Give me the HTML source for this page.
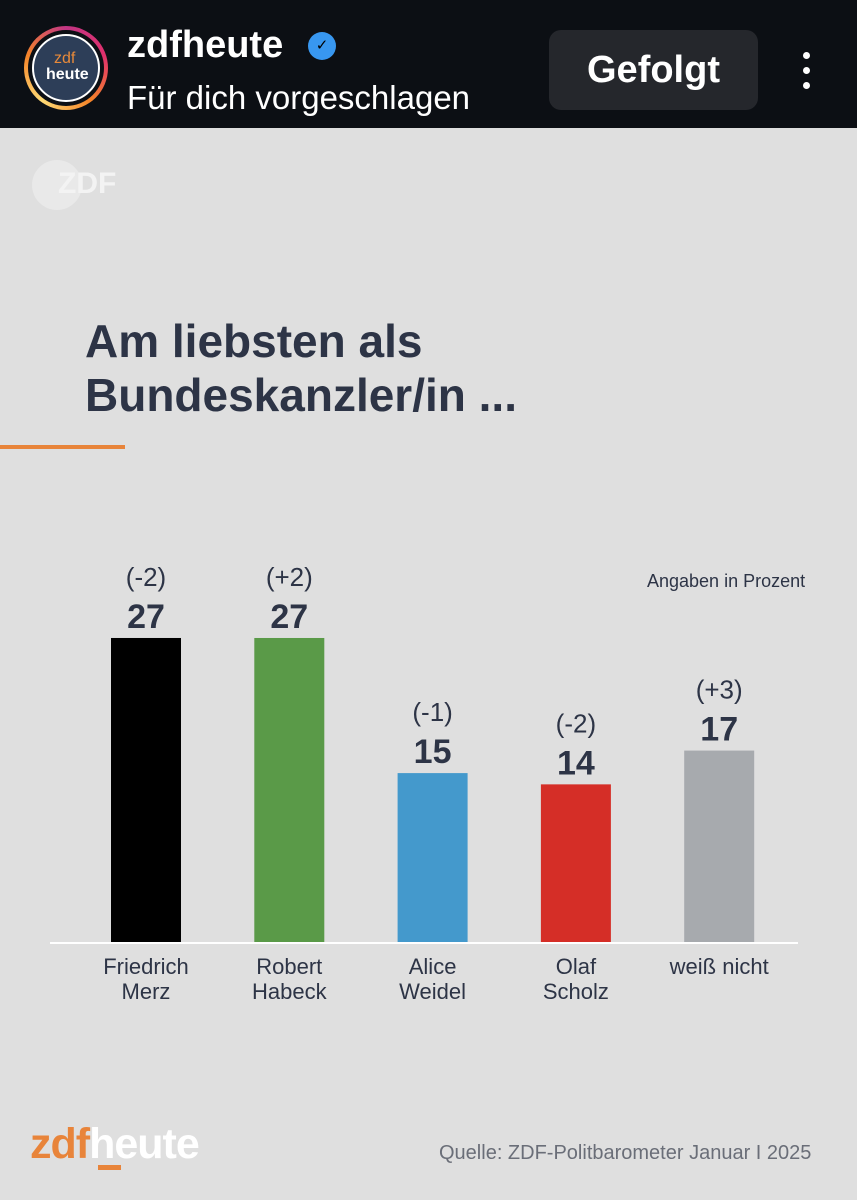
<!DOCTYPE html>
<html><head><meta charset="utf-8">
<style>
body{margin:0;width:857px;height:1200px;overflow:hidden;background:#dfdfdf;font-family:"Liberation Sans",sans-serif;position:relative}
.hdr{position:absolute;left:0;top:0;width:857px;height:128px;background:#0c0f14}
.t{position:absolute;white-space:nowrap}
</style></head><body>
<div class="hdr">
  <div style="position:absolute;left:24px;top:26px;width:84px;height:84px;border-radius:50%;background:conic-gradient(#c13584,#e1306c,#f58529,#feda75,#f58529,#c13584)">
    <div style="position:absolute;left:4px;top:4px;width:76px;height:76px;border-radius:50%;background:#0c0f14"></div>
    <div style="position:absolute;left:8px;top:8px;width:64px;height:64px;border-radius:50%;background:#2d3e58;border:2px solid #fff;box-sizing:content-box">
      <div class="t" style="left:20px;top:14px;color:#e88a3a;font-size:16px">zdf</div>
      <div class="t" style="left:12px;top:30px;color:#fff;font-size:16px;font-weight:bold">heute</div>
    </div>
  </div>
  <div class="t" style="left:127px;top:24px;color:#fff;font-size:38px;font-weight:bold">zdfheute</div>
  <div style="position:absolute;left:308px;top:32px;width:28px;height:28px;border-radius:50%;background:#3897f0;color:#000;font-size:15px;text-align:center;line-height:28px">✓</div>
  <div class="t" style="left:127px;top:79px;color:#fff;font-size:33px">Für dich vorgeschlagen</div>
  <div style="position:absolute;left:549px;top:30px;width:209px;height:80px;border-radius:12px;background:#25272c;color:#fff;font-size:38px;font-weight:bold;text-align:center;line-height:80px">Gefolgt</div>
  <div style="position:absolute;left:796px;top:52px;width:20px;height:40px">
    <div style="width:7px;height:7px;border-radius:50%;background:#fff;margin:0 auto 8px"></div>
    <div style="width:7px;height:7px;border-radius:50%;background:#fff;margin:0 auto 8px"></div>
    <div style="width:7px;height:7px;border-radius:50%;background:#fff;margin:0 auto"></div>
  </div>
</div>
<div style="position:absolute;left:32px;top:160px;width:50px;height:50px;border-radius:50%;background:#e9e9e9"></div>
<div class="t" style="left:58px;top:167px;color:#f3f3f3;font-size:30px;font-weight:bold">ZDF</div>
<div class="t" style="left:85px;top:314px;color:#2d3446;font-size:46px;font-weight:bold;line-height:54px">Am liebsten als<br>Bundeskanzler/in ...</div>
<div style="position:absolute;left:0;top:445px;width:125px;height:4px;background:#e8843a"></div>
<div class="t" style="left:647px;top:571px;color:#2d3446;font-size:18px">Angaben in Prozent</div>
<svg id="chart" width="857" height="1200" style="position:absolute;left:0;top:0"></svg>
<div class="t" style="left:30px;top:1120px;font-size:43px;font-weight:bold;letter-spacing:-1px"><span style="color:#e8843a">zdf</span><span style="color:#fff">heute</span></div>
<div style="position:absolute;left:98px;top:1165px;width:23px;height:5px;background:#e8843a"></div>
<div class="t" style="left:439px;top:1142px;color:#6a6e78;font-size:20px">Quelle: ZDF-Politbarometer Januar I 2025</div>
<script>
const categories=["Friedrich\nMerz","Robert\nHabeck","Alice\nWeidel","Olaf\nScholz","weiß nicht"];
const values=[27,27,15,14,17];
const changes=["(-2)","(+2)","(-1)","(-2)","(+3)"];
const colors=["#000000","#5a9a48","#4499cc","#d52e27","#a7aaae"];
const NS="http://www.w3.org/2000/svg";
const svg=document.getElementById('chart');
const base=942,scale=11.26,x0=146,step=143.3,bw=70;
const y=v=>base-v*scale, xc=i=>x0+i*step;
function mk(tag,attrs){const e=document.createElementNS(NS,tag);for(const k in attrs)e.setAttribute(k,attrs[k]);svg.appendChild(e);return e;}
values.forEach((v,i)=>{
  const r=mk('rect',{x:xc(i)-bw/2,y:y(v),width:bw,height:base-y(v),fill:colors[i]});
  
  
  const t=mk('text',{x:xc(i),y:y(v)-10,'text-anchor':'middle','font-size':34,'font-weight':'bold',fill:'#2d3446','font-family':'Liberation Sans'});
  t.textContent=v;
  
  
  const c=mk('text',{x:xc(i),y:y(v)-52,'text-anchor':'middle','font-size':26,fill:'#2d3446','font-family':'Liberation Sans'});
  c.textContent=changes[i];
  
  
  categories[i].split("\n").forEach((ln,j)=>{
    const l=mk('text',{x:xc(i),y:974+j*25,'text-anchor':'middle','font-size':22,fill:'#2d3446','font-family':'Liberation Sans'});
    l.textContent=ln;
    
    
  });
});
const ax=mk('line',{x1:50,x2:798,y1:base+1,y2:base+1,stroke:'#fff','stroke-width':2});


</script>
</body></html>
